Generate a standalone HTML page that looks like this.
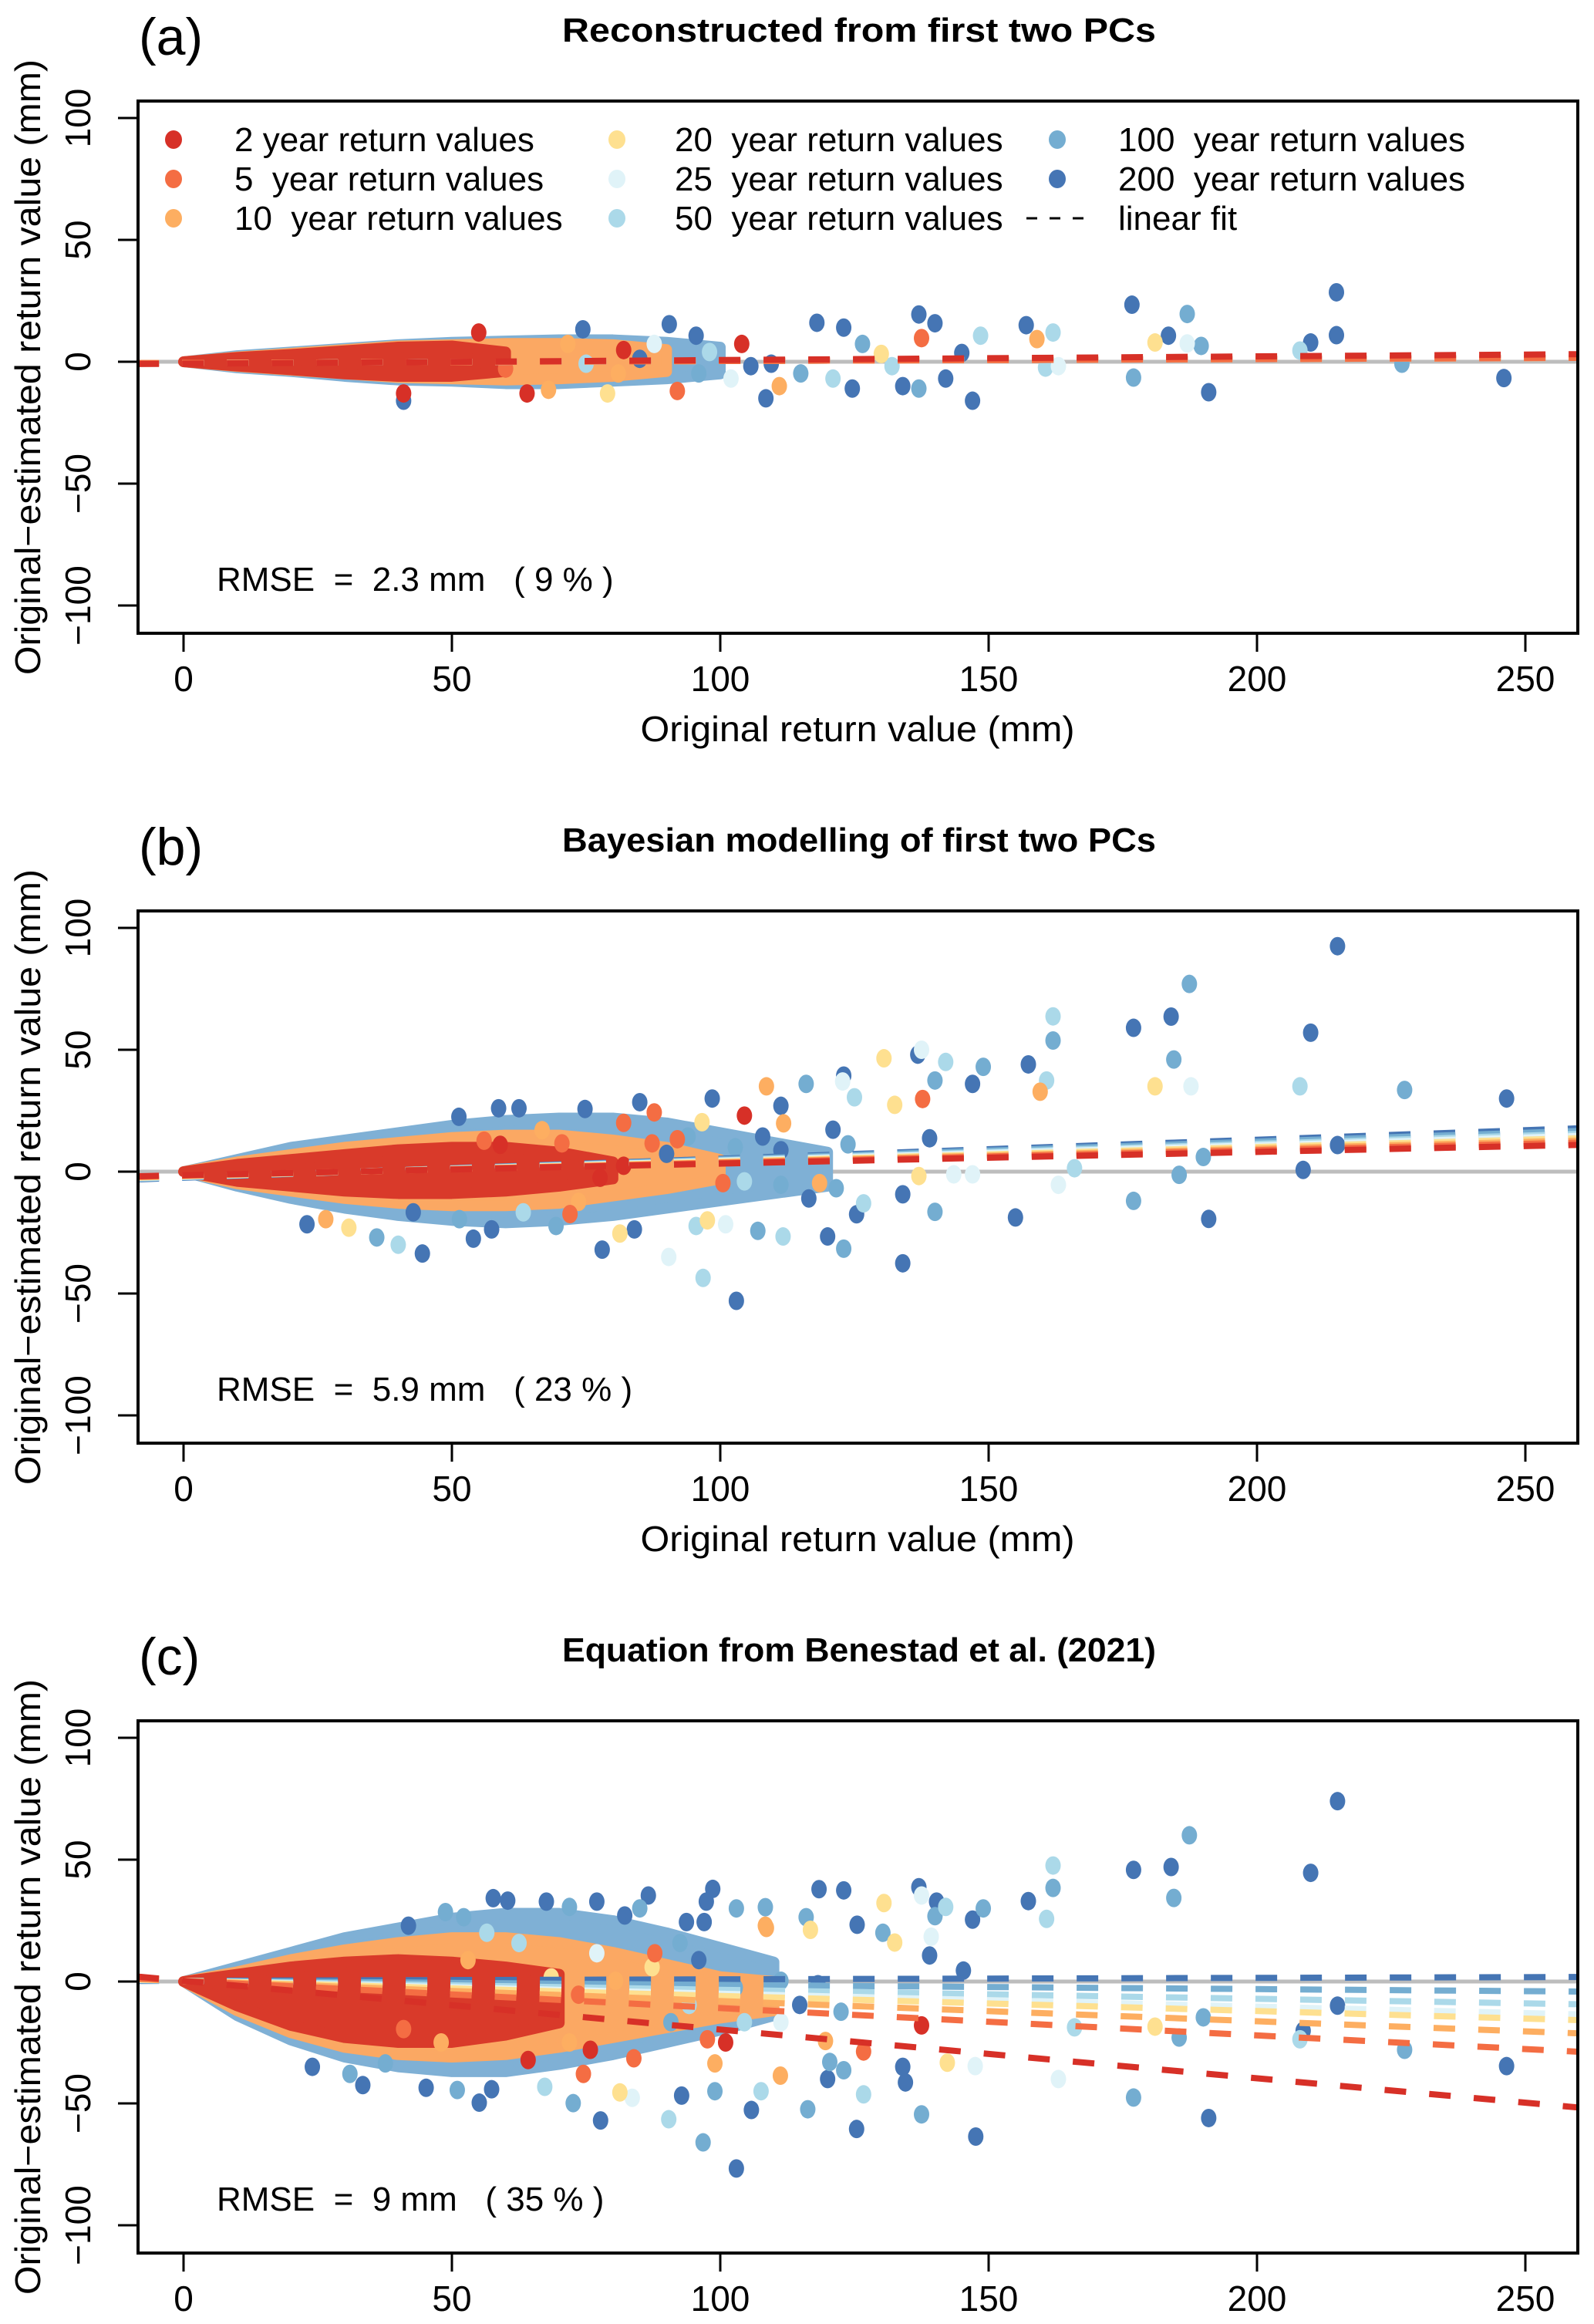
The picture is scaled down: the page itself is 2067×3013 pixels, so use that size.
<!DOCTYPE html>
<html><head><meta charset="utf-8"><style>
html,body{margin:0;padding:0;background:#fff}
svg{display:block}
text{font-family:"Liberation Sans",Arial,sans-serif;fill:#000}
</style></head><body>
<svg id="fig" xmlns="http://www.w3.org/2000/svg" width="2067" height="3013" viewBox="0 0 2067 3013"></svg>
<script>
// ---------- data ----------
const seriesNames = ["2","5","10","20","25","50","100","200"];
const seriesColors = ["#d73027","#f46d43","#fdae61","#fee090","#e0f3f8","#abd9e9","#74add1","#4575b4"];
const panelLabels = ["(a)","(b)","(c)"];
const panelTitles = ["Reconstructed from first two PCs","Bayesian modelling of first two PCs","Equation from Benestad et al. (2021)"];
const rmseText = ["RMSE  =  2.3 mm   ( 9 % )","RMSE  =  5.9 mm   ( 23 % )","RMSE  =  9 mm   ( 35 % )"];
const xTicks = [0,50,100,150,200,250];
const yTicks = [100,50,0,-50,-100];
const yTickLabels = ["100","50","0","\u221250","\u2212100"];

// linear fit slopes / intercepts per series (2yr..200yr)
const fitSlopeA = [0.015,0.008,0.008,0.008,0.008,0.008,0.008,0.008];
const fitIntA = [-0.8,-0.5,-0.5,-0.5,-0.5,-0.5,-0.5,-0.5];
const fitSlopeB = [0.048,0.052,0.056,0.060,0.064,0.068,0.073,0.078];
const fitIntB = [-1.5,-1.6,-1.8,-1.9,-2.0,-2.2,-2.3,-2.5];
const fitSlopeC = [-0.200,-0.112,-0.083,-0.062,-0.053,-0.037,-0.017,0.006];
const fitIntC = [0.3,0.3,0.3,0.3,0.3,0.3,0.3,0.3];

// dense cloud envelopes (x, upper, lower) per band
const cloudXA = [0,10,20,30,40,50,60,70,80,90,100];
const cloudOuterUpA = [0,2.5,4,5.5,7,8,8.5,9,9,8,6];
const cloudOuterLoA = [0,-2.5,-4,-6,-7.5,-8,-9,-9,-8,-7,-5];
const cloudMidXA = [0,10,20,30,40,50,60,70,80,90];
const cloudMidUpA = [0,2,3.5,5,6.5,7,7.5,7.5,7,5];
const cloudMidLoA = [0,-2,-3.5,-5,-6.5,-7,-7.5,-7,-6,-4];
const cloudRedXA = [0,10,20,30,40,50,60];
const cloudRedUpA = [0,1.8,3,4.5,6,6.5,4];
const cloudRedLoA = [0,-1.8,-3.3,-5,-6,-6,-4];

const cloudXB = [0,10,20,30,40,50,60,70,80,90,100,110,120];
const cloudOuterUpB = [0,5,10,13,16,19,21,22,22,20,16,12,8];
const cloudOuterLoB = [0,-6,-11,-15,-18,-20,-21,-20,-18,-15,-12,-9,-6];
const cloudMidXB = [0,10,20,30,40,50,60,70,80,90,100];
const cloudMidUpB = [0,4,7,10,12,14,15,15,13,10,5];
const cloudMidLoB = [0,-5,-8,-11,-13,-14,-14,-13,-10,-7,-3];
const cloudRedXB = [0,10,20,30,40,50,60,70,80];
const cloudRedUpB = [0,3,5,7,9,10,10,8,4];
const cloudRedLoB = [0,-4,-6,-8,-9,-9,-8,-6,-3];

const cloudXC = [0,10,20,30,40,50,60,70,80,90,100,110];
const cloudOuterUpC = [0,6,12,18,22,26,28,28,25,20,14,8];
const cloudOuterLoC = [0,-14,-24,-31,-35,-37,-37,-34,-30,-25,-20,-14];
const cloudMidXC = [0,10,20,30,40,50,60,70,80,90,100,110];
const cloudMidUpC = [0,4,9,13,16,18,18,16,12,7,2,0];
const cloudMidLoC = [0,-12,-21,-27,-30,-31,-30,-27,-23,-19,-15,-12];
const cloudRedXC = [0,10,20,30,40,50,60,70];
const cloudRedUpC = [0,3,6,8,9,8,6,3];
const cloudRedLoC = [0,-10,-18,-23,-25,-25,-22,-17];

// scattered points: x, y, series index
const ptsXA = [214.8,214.8,176.7,187,177,191,246,147,137,140,157,162,159,137.5,181,183.5,189.6,187,210,208,227,160.6,163,142,137,134,148.5,145,123,118,111,108.5,90.5,74.4,55,41,41,64,92,79,68,104,95.5,82,75,98,105.7,115,121,126.5,130,87.7,96,102,81,71.6,60,85,109.5,124.6,132];
const ptsYA = [28.5,10.9,23.4,19.6,-6.5,-12.5,-6.7,-16,19.4,15.8,15,12,9.3,9.7,7.9,10.7,6.5,7.5,7.9,4.6,-0.8,-2.4,-1.8,-6.9,-11,-10,10.7,3.6,14,16,-10,-15,15.4,13.3,12,-16,-13,-13,-12,-13,-11.5,7.3,10.7,4.8,-0.8,4,-1.8,-4.8,-6.9,7.3,3.2,7.3,-4.8,-6.9,-4.8,7.3,-2.8,1.2,-0.8,-11,-1.8];
const ptsSA = [7,7,7,6,6,7,7,7,7,7,7,5,2,1,3,7,6,4,7,5,6,5,4,7,6,7,5,7,7,7,2,7,7,7,0,7,0,0,1,3,2,0,7,0,5,5,7,6,5,6,3,4,6,4,2,2,1,7,7,7,5];

const ptsXB = [215,187.4,162,184,177,210,162,184.5,157.4,149,137.5,136.8,130.5,142,140,147,160.8,159.6,181,187.7,208,227.5,246.5,137.7,132.5,123,116,125,108.6,122.8,104.5,139,215,190,166,208.6,185.5,163,177,191,155,140,134,103,96.8,90.4,123,120,111.7,107,125.4,134,137,143.5,147,126.7,118.5,44.5,40,54,78,84,81.3,97.6,101,95.5,36,30.8,23,26.5,85,58.7,62.5,74.8,51.3,87.7,82,98.5,96.6,111.3,111.8,82,77.6,66.8,56,59,70.5,87.3,92,100.5,104.5,111.3,116.5,121.6,90,94,107.9,102.8,111.3,123.8,121,73.6,72,63.3,69.4,57.4,51.4,42.8];
const ptsYB = [92.5,77,63.7,63.6,59,57,53.8,46,44,43,50,48,46.5,45,37.4,36,37.4,32.8,35,35,35,33.5,30,29.8,27.4,39.4,36,30.5,35,37,23,13.7,10.9,6,1.4,0.7,-1.3,-5.4,-12,-19.4,-18.8,-16.5,-37.6,-53,-43.6,-35,-31.6,-26.6,-26.6,-24.3,-17.5,-9.3,-1.8,-1.1,-1.1,-13,-4.7,-33.6,-30,-27.5,-32,-23.7,-25.4,-20,-21.6,-22.3,-27,-23,-21.6,-19.5,28.5,26,26,25.7,22.5,24.3,20,30,20.3,27,19.8,2.4,-2.5,17,12.7,11,11.6,11.6,13.3,-4.7,-4,-5.4,-11,-6.8,7.3,14.4,14.4,10,8.8,11.2,17.2,-12.4,-17.4,-16.7,-22.3,-23.7,-19.5,-16.7];
const ptsSB = [7,6,5,7,7,7,6,6,7,6,4,7,3,5,6,7,5,2,3,4,5,6,7,1,3,7,6,5,2,4,0,7,7,6,5,7,6,4,6,7,7,6,7,7,5,4,6,7,5,6,7,7,3,4,4,5,2,7,5,7,7,7,3,3,4,5,6,3,7,2,7,7,7,7,7,1,1,7,3,7,2,0,0,2,1,0,1,1,1,1,5,6,7,6,7,6,7,6,7,6,7,2,1,5,6,7,6,7];

const ptsXC = [215,187.4,162,177,184,210,162,184.5,160.8,157.4,149,147,137,137.5,130.5,142,140.3,140,139.3,132.5,118.4,123,98.6,97.4,108.4,103,86.6,85,116,125.5,130.3,139,145.3,108.6,116.8,93.7,97,215,190,166,181,185.5,208,208.6,227.5,246.5,163,177,191,147.6,137.5,134.5,134,125.4,123,120.4,120,116.3,105.8,103,96.8,90.4,77.7,72.6,67.3,55.1,57.4,45.2,33.4,51,92.8,99,107.6,111.2,126.7,147.5,142.3,81.3,83.6,99,74.5,64.2,137.5,126.7,119.6,108.4,87.8,101,97.6,83.9,75.8,71.9,82.2,77,71.9,67.6,57.7,60.4,52.2,48.8,41.9,114.8,122.5,111.3,104.5,90.8,94.2,102.8,111.3,118.2,96,92.5,87.3,77,80.5,73.6,68.5,62.5,56.5,53,41,48,37.6,31,24];
const ptsYC = [74,60,47.6,45.8,47,44.6,38.4,34.3,25.7,33,30,25.4,38.7,35.3,32.2,30.6,32.8,26.8,18.4,16,37.9,37.4,38,32.8,30.5,30,35.3,30,26.4,23.3,20,10.7,4.5,22,21.2,24.4,24.4,-9.9,-14.7,-18.8,-18.5,-23,-23.7,-20.2,-28,-34.7,-40,-47.6,-56,-63.6,-54.5,-41.4,-35,-60.5,-36.4,-33,-40,-52.4,-52.7,-76.7,-66,-56.5,-57,-49.9,-43.2,-49.7,-44.2,-43.6,-42.5,-44.5,-46.8,-45,-45,-38.6,-46.3,-34.7,-33.3,-45.5,-47.7,-33.6,-37.9,-32.2,-18,-28.7,-24.4,22.9,11.6,-25,-23.7,-31.5,-28,-25,27.1,32.8,30.6,32.8,34.2,33.2,26.4,28.5,22.9,-9.6,-12.4,-16.7,-16.7,-16.7,-9.6,-2.5,0.3,-1.1,8.8,15.8,5.9,11.6,0.3,-5.4,1.7,15.8,20,8.8,-19.5,-25,-33.6,-37.9,-35];
const ptsSC = [7,6,5,7,7,7,6,6,5,7,6,7,7,4,3,5,7,6,4,3,7,7,7,7,6,6,7,6,6,7,6,7,7,2,3,7,7,7,6,5,3,6,5,7,6,7,4,6,7,7,6,7,7,7,6,6,7,6,7,7,6,5,7,6,5,7,7,7,7,6,7,6,5,2,5,4,3,3,4,2,1,0,0,1,2,2,1,0,1,1,0,2,7,7,6,7,7,7,6,6,7,7,6,4,5,6,5,6,6,7,7,6,3,4,2,1,3,5,5,2,1,2,6,6,7];

// ---------- drawing ----------
const NS = "http://www.w3.org/2000/svg";
const svg = document.getElementById("fig");
function mk(tag, attrs, parent){
  const e = document.createElementNS(NS, tag);
  for (const k in attrs) e.setAttribute(k, attrs[k]);
  (parent||svg).appendChild(e);
  return e;
}
const BOX_L = 179, BOX_R = 2046, BOX_T = 131, BOX_B = 821, Y0 = 469;
const XMIN = -8.6, XMAX = 259.8;
function xS(v){ return 238 + 6.96 * v; }

const panels = [
  {fs:fitSlopeA, fi:fitIntA, cx:cloudXA, ou:cloudOuterUpA, ol:cloudOuterLoA, mx:cloudMidXA, mu:cloudMidUpA, ml:cloudMidLoA, rx:cloudRedXA, ru:cloudRedUpA, rl:cloudRedLoA, px:ptsXA, py:ptsYA, ps:ptsSA},
  {fs:fitSlopeB, fi:fitIntB, cx:cloudXB, ou:cloudOuterUpB, ol:cloudOuterLoB, mx:cloudMidXB, mu:cloudMidUpB, ml:cloudMidLoB, rx:cloudRedXB, ru:cloudRedUpB, rl:cloudRedLoB, px:ptsXB, py:ptsYB, ps:ptsSB},
  {fs:fitSlopeC, fi:fitIntC, cx:cloudXC, ou:cloudOuterUpC, ol:cloudOuterLoC, mx:cloudMidXC, mu:cloudMidUpC, ml:cloudMidLoC, rx:cloudRedXC, ru:cloudRedUpC, rl:cloudRedLoC, px:ptsXC, py:ptsYC, ps:ptsSC}
];

panels.forEach((P, pi) => {
  const off = pi * 1050;
  const yS = v => Y0 + off - 3.16 * v;
  const g = mk("g", {});
  
  

  const lab = mk("text", {x:180, y:71+off, "font-size":68}, g);
  lab.textContent = panelLabels[pi];
  
  

  const tt = mk("text", {x:1114, y:54+off, "font-size":44, "font-weight":"bold", "text-anchor":"middle", textLength:770, lengthAdjust:"spacingAndGlyphs"}, g);
  tt.textContent = panelTitles[pi];
  
  

  const clipId = "clip" + pi;
  const cp = mk("clipPath", {id:clipId}, g);
  mk("rect", {x:BOX_L, y:BOX_T+off, width:BOX_R-BOX_L, height:BOX_B-BOX_T}, cp);
  const plot = mk("g", {"clip-path":"url(#"+clipId+")"}, g);
  
  

  const zl = mk("line", {x1:BOX_L, x2:BOX_R, y1:yS(0), y2:yS(0), stroke:"#bdbdbd", "stroke-width":5}, plot);
  
  

  function band(xs, up, lo, color, name){
    let d = "";
    xs.forEach((x,i)=>{ d += (i?"L":"M") + xS(x) + " " + yS(up[i]) + " "; });
    for (let i = xs.length-1; i>=0; i--) d += "L" + xS(xs[i]) + " " + yS(lo[i]) + " ";
    const p = mk("path", {d:d+"Z", fill:color, stroke:color, "stroke-width":14, "stroke-linejoin":"round"}, plot);
    
    
  }
  band(P.cx, P.ou, P.ol, "#7fb0d5", "cloud-outer");
  band(P.mx, P.mu, P.ml, "#fba863", "cloud-middle");
  band(P.rx, P.ru, P.rl, "#d93a2a", "cloud-core");

  for (let s = 7; s >= 0; s--) {
    P.px.forEach((x,i)=>{
      if (P.ps[i] !== s) return;
      const c = mk("ellipse", {cx:xS(x), cy:yS(P.py[i]), rx:10, ry:12, fill:seriesColors[s]}, plot);
      
      
    });
  }

  for (let s = 7; s >= 0; s--) {
    const l = mk("line", {x1:xS(XMIN), x2:xS(XMAX), y1:yS(P.fi[s]+P.fs[s]*XMIN), y2:yS(P.fi[s]+P.fs[s]*XMAX),
      stroke:seriesColors[s], "stroke-width":8, "stroke-dasharray":"28 30"}, plot);
    
    
  }

  const box = mk("rect", {x:BOX_L, y:BOX_T+off, width:BOX_R-BOX_L, height:BOX_B-BOX_T, fill:"none", stroke:"#000", "stroke-width":4}, g);
  
  

  xTicks.forEach(v=>{
    const t = mk("line", {x1:xS(v), x2:xS(v), y1:BOX_B+off, y2:BOX_B+off+24, stroke:"#000", "stroke-width":3}, g);
    
    
    const tl = mk("text", {x:xS(v), y:896+off, "font-size":46, "text-anchor":"middle"}, g);
    tl.textContent = String(v);
    
    
  });
  yTicks.forEach((v,i)=>{
    const t = mk("line", {x1:BOX_L-26, x2:BOX_L, y1:yS(v), y2:yS(v), stroke:"#000", "stroke-width":3}, g);
    
    
    const tl = mk("text", {x:0, y:0, "font-size":46, "text-anchor":"middle", transform:"translate(117,"+yS(v)+") rotate(-90)"}, g);
    tl.textContent = yTickLabels[i];
    
    
  });

  if (pi < 2) {
    const xt = mk("text", {x:1112, y:961+off, "font-size":46, "text-anchor":"middle", textLength:563, lengthAdjust:"spacingAndGlyphs"}, g);
    xt.textContent = "Original return value (mm)";
    
    
  }
  const yt = mk("text", {x:0, y:0, "font-size":46, "text-anchor":"middle", textLength:798, lengthAdjust:"spacingAndGlyphs", transform:"translate(52,"+(476+off)+") rotate(-90)"}, g);
  yt.textContent = "Original\u2212estimated return value (mm)";
  
  

  const rm = mk("text", {x:281, y:766+off, "font-size":44, "xml:space":"preserve", style:"white-space:pre"}, g);
  rm.textContent = rmseText[pi];
  
  
});

const legend = mk("g", {});


const legColX = [225, 800, 1371];
const legTextX = [304, 875, 1450];
const legRowY = [181, 232, 283];
const legLabels = ["2 year return values","5  year return values","10  year return values","20  year return values","25  year return values","50  year return values","100  year return values","200  year return values"];
legLabels.forEach((lbl, i)=>{
  const col = Math.floor(i/3), row = i%3;
  const d = mk("ellipse", {cx:legColX[col], cy:legRowY[row], rx:11, ry:12, fill:seriesColors[i]}, legend);
  
  
  const t = mk("text", {x:legTextX[col], y:legRowY[row]+15, "font-size":44, "xml:space":"preserve", style:"white-space:pre"}, legend);
  t.textContent = lbl;
  
  
});
const ll = mk("line", {x1:1331, x2:1405, y1:283, y2:283, stroke:"#000", "stroke-width":3, "stroke-dasharray":"14 16"}, legend);


const lt = mk("text", {x:1450, y:298, "font-size":44}, legend);
lt.textContent = "linear fit";


</script>
</body></html>
